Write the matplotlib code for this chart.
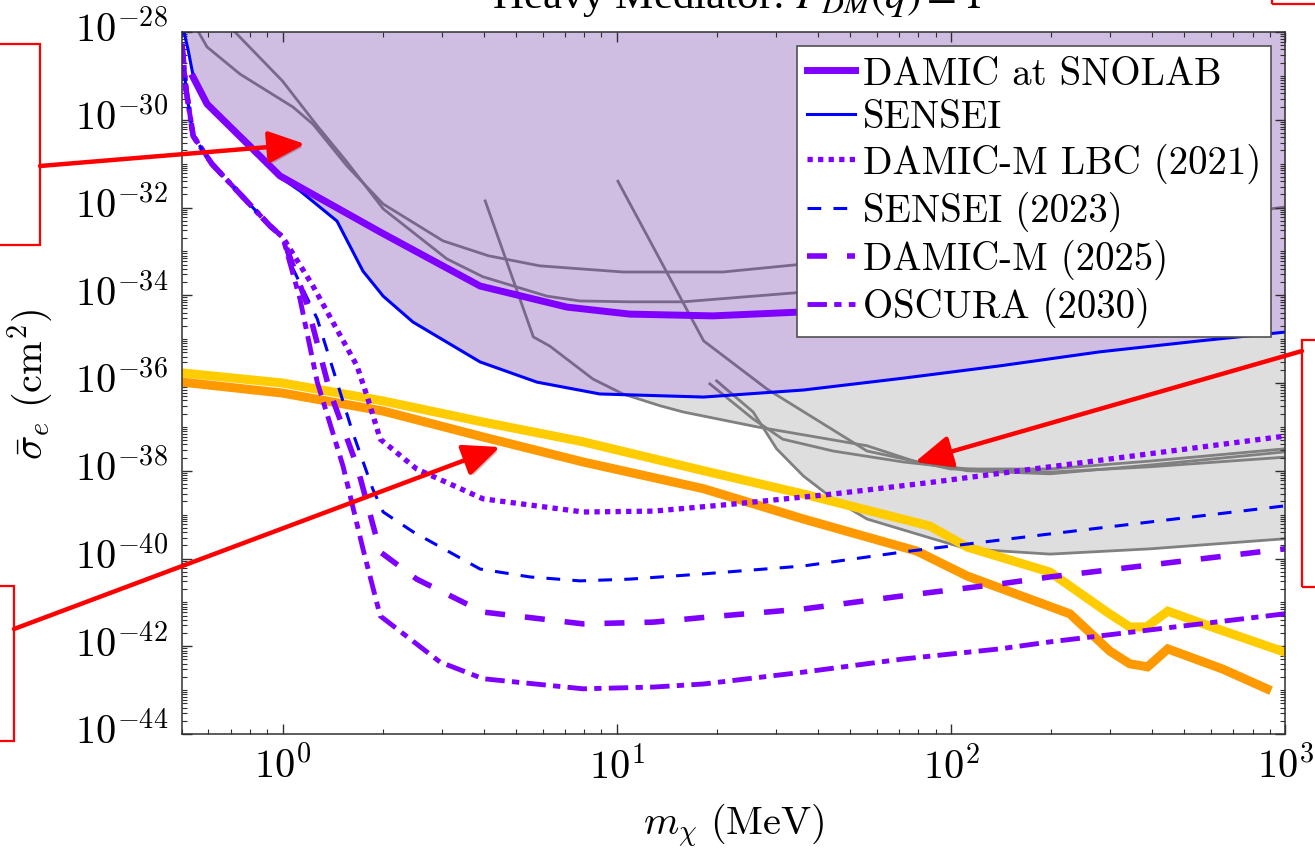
import numpy as np
import matplotlib.pyplot as plt
import matplotlib.patheffects as pe
import matplotlib.transforms as mtransforms
from matplotlib.patches import Rectangle, FancyArrowPatch
from matplotlib.ticker import FixedLocator, LogLocator, FuncFormatter, NullFormatter

plt.rcParams['font.family'] = 'serif'
plt.rcParams['font.serif'] = ['cmr10']
plt.rcParams['mathtext.fontset'] = 'cm'
plt.rcParams['axes.unicode_minus'] = False

# DM mass in MeV, limits as log10(sigma_e / cm^2)
sensei_m = [0.503, 0.521, 0.54, 0.607, 0.80, 1.0, 1.127, 1.455, 1.74, 2.0, 2.455, 3.90,
            5.77, 8.9, 18.2, 36.2, 72, 140, 279, 556, 1000]
sensei_ls = [-27.89, -28.39, -29.0, -29.71, -30.55, -31.35, -31.62, -32.31, -33.45, -34.02,
             -34.61, -35.52, -35.98, -36.25, -36.32, -36.16, -35.89, -35.61, -35.29, -35.04, -34.84]

snolab_m = [0.54, 0.594, 0.982, 1.96, 3.90, 7.1, 10.95, 19.4, 36.1, 72, 150]
snolab_ls = [-29.03, -29.64, -31.28, -32.56, -33.79, -34.27, -34.43, -34.47, -34.38, -34.2, -34.1]

# projections share the low-mass branch
branch_m = [0.5, 0.514, 0.54, 0.615, 0.917, 1.0]
branch_ls = [-28.27, -29.30, -30.37, -31.01, -32.42, -32.67]

lbc_m = branch_m + [1.233, 1.67, 1.79, 1.96, 2.52, 3.98, 7.93, 12.9, 22.3, 44.4, 88.3, 198, 1000]
lbc_ls = branch_ls + [-33.79, -35.61, -36.30, -37.28, -37.96, -38.64, -38.94, -38.92, -38.76,
                      -38.53, -38.26, -37.91, -37.21]

sensei23_m = branch_m + [1.05, 1.27, 1.455, 1.62, 1.86, 2.0, 2.455, 3.90, 5.5, 7.76, 10.95,
                         18.2, 36.2, 72, 198, 1000]
sensei23_ls = branch_ls + [-33.24, -34.54, -35.98, -37.12, -38.41, -38.94, -39.39, -40.24, -40.42,
                           -40.51, -40.47, -40.35, -40.17, -39.85, -39.44, -38.80]

damicm_m = branch_m + [1.183, 1.386, 1.67, 1.96, 2.52, 3.98, 7.93, 12.9, 19.0, 36.2, 72, 140, 198, 1000]
damicm_ls = branch_ls + [-34.20, -36.20, -37.89, -39.85, -40.47, -41.22, -41.49, -41.45, -41.33,
                         -41.15, -40.85, -40.58, -40.42, -39.78]

oscura_m = branch_m + [1.127, 1.27, 1.516, 1.74, 1.96, 2.96, 3.98, 7.93, 12.9, 18.2, 36.2, 72, 140, 198, 1000]
oscura_ls = branch_ls + [-34.08, -35.98, -37.89, -39.78, -41.31, -42.36, -42.74, -42.97, -42.93,
                         -42.86, -42.59, -42.29, -42.06, -41.90, -41.26]

# theory targets
target1_m = [0.5, 1.0, 2.0, 3.98, 7.93, 18.2, 36.2, 86.5, 112, 198, 293, 343, 385, 446, 625, 977]
target1_ls = [-35.77, -36.00, -36.41, -36.89, -37.34, -38.0, -38.53, -39.26, -39.74, -40.31,
              -41.22, -41.56, -41.56, -41.2, -41.6, -42.11]
target2_m = [0.5, 1.0, 2.0, 3.98, 7.93, 18.2, 36.2, 79, 112, 227, 299, 343, 388, 446, 651, 883]
target2_ls = [-35.98, -36.23, -36.64, -37.23, -37.80, -38.41, -39.10, -39.83, -40.40, -41.26,
              -42.11, -42.40, -42.47, -42.06, -42.52, -42.97]

# other direct-detection limits
other_a_m = [0.543, 0.594, 0.746, 1.074, 1.233, 1.557, 2.0, 3.02, 4.13, 5.89, 10.44, 20.8, 36.1, 140, 394, 1000]
other_a_ls = [-27.82, -28.34, -28.96, -29.71, -30.10, -31.05, -31.92, -32.76, -33.10, -33.33,
              -33.47, -33.47, -33.29, -32.83, -32.38, -31.99]
other_b_m = [0.696, 0.72, 1.0, 1.27, 1.557, 2.0, 3.10, 3.98, 6.18, 7.76, 10.95, 15.8, 36.1, 100]
other_b_ls = [-27.82, -28.0, -29.12, -30.14, -30.96, -32.03, -33.17, -33.58, -34.02, -34.13,
              -34.15, -34.15, -33.93, -33.74]
other_c_m = [4.04, 5.63, 6.31, 8.49, 10.44, 13.5, 15.8, 26.3, 56.1, 79, 112, 198, 394, 1000]
other_c_ls = [-31.85, -34.95, -35.16, -35.91, -36.25, -36.52, -36.66, -37.00, -37.43, -37.80,
              -38.00, -38.07, -37.87, -37.57]
other_d_m = [10.08, 18.2, 28.2, 56.1, 100, 198, 394, 1000]
other_d_ls = [-31.40, -35.04, -36.14, -37.55, -37.96, -37.96, -37.78, -37.50]
other_e_m = [19.0, 25.6, 31.4, 44.4, 72, 112, 198, 394, 1000]
other_e_ls = [-36.02, -36.82, -37.28, -37.55, -37.80, -37.96, -38.03, -37.91, -37.69]
other_f_m = [19.9, 25.6, 30.1, 36.2, 44.4, 56.1, 88.3, 112, 198, 394, 1000]
other_f_ls = [-35.95, -36.66, -37.50, -38.12, -38.64, -39.10, -39.55, -39.78, -39.90, -39.78, -39.55]

others = [(other_a_m, other_a_ls), (other_b_m, other_b_ls), (other_c_m, other_c_ls),
          (other_d_m, other_d_ls), (other_e_m, other_e_ls), (other_f_m, other_f_ls)]

W, H = 1315, 854
fig = plt.figure(figsize=(W / 100, H / 100), dpi=100)
ax = fig.add_axes([182 / W, 1 - 735 / H, 1103 / W, 702 / H])
ax.set_xscale('log')
ax.set_yscale('log')

# region excluded by the other limits, below SENSEI
grid = np.linspace(np.log10(0.5), 3, 800)
def on_grid(m, ls):
    return np.interp(grid, np.log10(m), ls, left=np.nan, right=np.nan)
upper = on_grid(sensei_m, sensei_ls)
env = np.fmin.reduce(np.vstack([on_grid(m, l) for m, l in others]), axis=0)
ax.fill_between(10 ** grid, 10 ** env, 10 ** upper, where=env < upper, interpolate=True,
                color='#dedede', lw=0, zorder=0.5)
for m, l in others:
    ax.plot(m, 10 ** np.array(l), color='#808080', lw=2, zorder=0.8)

ax.fill_between(sensei_m, 10 ** np.array(sensei_ls), 1e-27, color=(110 / 255, 55 / 255, 167 / 255),
                alpha=0.33, lw=0, zorder=1)

purple = '#7f00ff'
ax.plot(target1_m, 10 ** np.array(target1_ls), color='#ffcc00', lw=6.5, zorder=3, solid_joinstyle='miter')
ax.plot(target2_m, 10 ** np.array(target2_ls), color='#ff9900', lw=6.5, zorder=3.1, solid_joinstyle='miter')
ax.plot(sensei_m, 10 ** np.array(sensei_ls), color='#0000ff', lw=2.2, zorder=4, label='SENSEI')
ax.plot(snolab_m, 10 ** np.array(snolab_ls), color=purple, lw=5, zorder=4.1, label='DAMIC at SNOLAB')
ax.plot(lbc_m, 10 ** np.array(lbc_ls), color=purple, lw=3.8, dashes=(1, 1), zorder=4,
        label='DAMIC-M LBC (2021)')
ax.plot(sensei23_m, 10 ** np.array(sensei23_ls), color='#0000ff', lw=2.2, dashes=(4.5, 4), zorder=4,
        label='SENSEI (2023)')
ax.plot(damicm_m, 10 ** np.array(damicm_ls), color=purple, lw=4, dashes=(3.6, 3.6), zorder=4,
        label='DAMIC-M (2025)')
ax.plot(oscura_m, 10 ** np.array(oscura_ls), color=purple, lw=3.5, dashes=(4, 1.5, 1.5, 1.5), zorder=4,
        label='OSCURA (2030)')

ax.set_xlim(0.5, 1000)
ax.set_ylim(1e-44, 1e-28)
ax.xaxis.set_major_locator(FixedLocator([1, 10, 100, 1000]))
ax.xaxis.set_minor_locator(LogLocator(base=10, subs=np.arange(2, 10), numticks=50))
ax.yaxis.set_major_locator(FixedLocator([10.0 ** e for e in range(-44, -27, 2)]))
ax.yaxis.set_minor_locator(LogLocator(base=10, subs=np.arange(1, 10), numticks=200))
sci = FuncFormatter(lambda v, pos: r'$10^{%d}$' % round(np.log10(v)))
ax.xaxis.set_major_formatter(sci)
ax.yaxis.set_major_formatter(sci)
ax.xaxis.set_minor_formatter(NullFormatter())
ax.yaxis.set_minor_formatter(NullFormatter())
ax.tick_params(which='both', direction='in', top=True, right=True, color='#303030', labelsize=29)
ax.tick_params(which='major', length=7, width=1)
ax.tick_params(which='minor', length=3.5, width=0.8)
ax.tick_params(axis='y', pad=10)
ax.tick_params(axis='x', pad=8)
for s in ax.spines.values():
    s.set_color('#303030')
    s.set_linewidth(1.1)
    s.set_zorder(5)

ax.set_xlabel(r'$m_\chi\ (\mathrm{MeV})$', fontsize=29)
ax.set_ylabel(r'$\bar{\sigma}_e\ (\mathrm{cm}^2)$', fontsize=29)
ax.xaxis.set_label_coords(0.5, -0.095)
ax.yaxis.set_label_coords(-0.115, 0.5)

handles, labels = ax.get_legend_handles_labels()
order = [labels.index(n) for n in ['DAMIC at SNOLAB', 'SENSEI', 'DAMIC-M LBC (2021)', 'SENSEI (2023)',
                                   'DAMIC-M (2025)', 'OSCURA (2030)']]
leg = ax.legend([handles[i] for i in order], [labels[i] for i in order],
                loc='upper right', bbox_to_anchor=(1 - 14 / 1103, 1 - 14 / 702), borderaxespad=0,
                fontsize=28, frameon=True, fancybox=False, framealpha=1, edgecolor='#505050',
                handlelength=1.25, handletextpad=0.2, labelspacing=0.2, borderpad=0.25)
leg.get_frame().set_linewidth(1.2)
leg.set_zorder(6)

fig.canvas.draw()
lift = mtransforms.ScaledTranslation(0, 5 / 72, fig.dpi_scale_trans)
for t in ax.get_yticklabels():
    t.set_transform(t.get_transform() + lift)

fig.text(737 / W, 1 - 8 / H, r'Heavy Mediator: $F_{DM}(q) = 1$', ha='center', va='baseline',
         fontsize=31, family='Liberation Serif', math_fontfamily='stix')

# callout boxes and arrows
def fxy(px, py):
    return px / W, 1 - py / H

shadow = [pe.SimplePatchShadow(offset=(2, -2), alpha=0.25), pe.Normal()]
for x0, y0, x1, y1 in [(-10, 45, 40, 246), (-10, 587, 14, 742), (1302, 341, 1330, 588), (1272, -20, 1330, 5)]:
    fig.add_artist(Rectangle(fxy(x0, y1), (x1 - x0) / W, (y1 - y0) / H, transform=fig.transFigure,
                             fill=False, ec='#ff0000', lw=1.6))
for tail, head in [((40, 167), (305, 145)), ((14, 630), (500, 448)), ((1302, 352), (915, 463))]:
    fig.add_artist(FancyArrowPatch(fxy(*tail), fxy(*head), transform=fig.transFigure,
                                   arrowstyle='-|>,head_length=1.6,head_width=0.7', mutation_scale=14,
                                   color='#ff0000', lw=3.2, shrinkA=0, shrinkB=0, path_effects=shadow,
                                   zorder=10))

fig.savefig('out.png', dpi=100)
